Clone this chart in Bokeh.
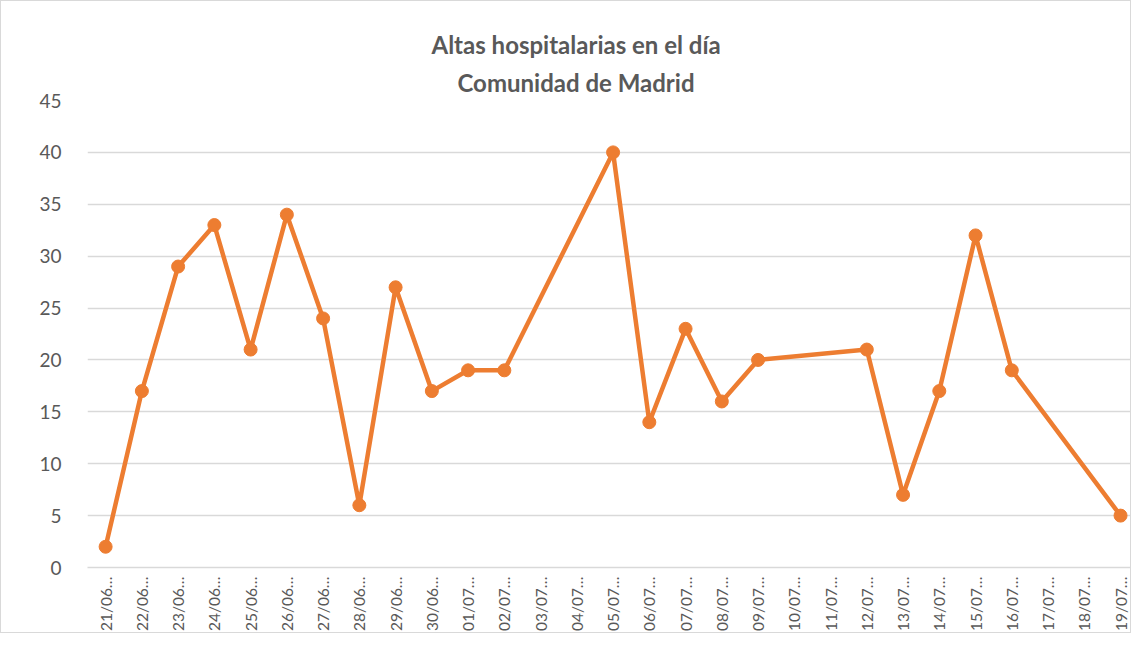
import math
from bokeh.plotting import figure
from bokeh.models import FixedTicker, Range1d, Title
from bokeh.embed import file_html
from bokeh.resources import INLINE

dates = ["21/06", "22/06", "23/06", "24/06", "25/06", "26/06", "27/06", "28/06",
         "29/06", "30/06", "01/07", "02/07", "03/07", "04/07", "05/07", "06/07",
         "07/07", "08/07", "09/07", "10/07", "11/07", "12/07", "13/07", "14/07",
         "15/07", "16/07", "17/07", "18/07", "19/07"]
altas = [2, 17, 29, 33, 21, 34, 24, 6, 27, 17, 19, 19, None, None, 40, 14,
         23, 16, 20, None, None, 21, 7, 17, 32, 19, None, None, 5]

xs = [i for i, v in enumerate(altas) if v is not None]
ys = [v for v in altas if v is not None]

FONT = "Lato"
GREY = "#595959"
ORANGE = "#ED7D31"

p = figure(width=1131, height=633, output_backend="svg", toolbar_location=None,
           x_range=Range1d(-0.5, 28.33), y_range=Range1d(0, 45),
           min_border_left=86, min_border_right=0, min_border_top=99,
           min_border_bottom=10)
p.title = None
p.add_layout(Title(text="Comunidad de Madrid", align="left", offset=370, text_font=FONT,
                   text_font_size="24px", text_font_style="bold", text_color=GREY,
                   standoff=8), "above")
p.add_layout(Title(text="Altas hospitalarias en el día", align="left", offset=344, text_font=FONT,
                   text_font_size="24px", text_font_style="bold", text_color=GREY,
                   standoff=5), "above")

p.outline_line_color = None
p.background_fill_color = "white"
p.border_fill_color = "white"

p.xgrid.grid_line_color = None
p.ygrid.grid_line_color = "#d9d9d9"
p.ygrid.grid_line_width = 1.5

p.yaxis.ticker = FixedTicker(ticks=list(range(0, 46, 5)))
p.yaxis.axis_line_color = None
p.yaxis.major_tick_line_color = None
p.yaxis.minor_tick_line_color = None
p.yaxis.major_label_text_font = FONT
p.yaxis.major_label_text_font_size = "19px"
p.yaxis.major_label_text_color = GREY
p.yaxis.major_label_standoff = 20

p.xaxis.ticker = FixedTicker(ticks=list(range(len(dates))))
p.xaxis.major_label_overrides = {i: d + "…" for i, d in enumerate(dates)}
p.xaxis.major_label_orientation = math.pi / 2
p.xaxis.axis_line_color = "#d9d9d9"
p.xaxis.axis_line_width = 1.5
p.xaxis.major_tick_line_color = None
p.xaxis.minor_tick_line_color = None
p.xaxis.major_label_text_font = FONT
p.xaxis.major_label_text_font_size = "15.5px"
p.xaxis.major_label_text_color = GREY
p.xaxis.major_label_standoff = 3

p.line(xs, ys, line_color=ORANGE, line_width=4.5)
p.scatter(xs, ys, size=13, fill_color=ORANGE, line_color=ORANGE)

p.styles = {"border": "1.5px solid #d9d9d9"}

open("out.html", "w").write(file_html(p, INLINE))
